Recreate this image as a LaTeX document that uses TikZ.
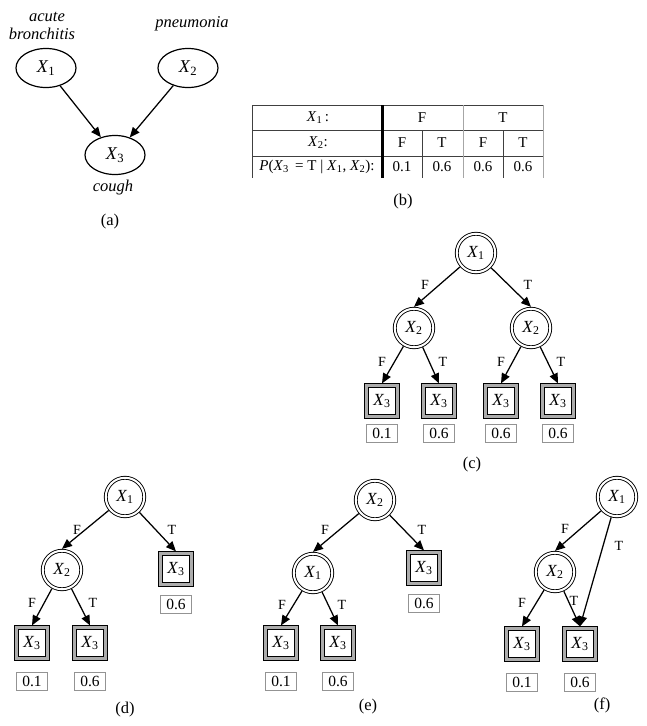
\documentclass[tikz,border=0pt]{standalone}
\usepackage{fontspec}
\setmainfont{Liberation Serif}
\usetikzlibrary{arrows.meta,shapes.geometric}
\newcommand{\Xv}[1]{\textit{X}\textsubscript{#1}}
\begin{document}
\begin{tikzpicture}[x=1pt,y=-1pt,
  ell/.style={ellipse, draw, line width=1.2pt, minimum width=60pt, minimum height=39pt, inner sep=0pt, font=\fontsize{18}{20}\selectfont},
  lbla/.style={font=\fontsize{16.5}{17}\selectfont\itshape, inner sep=0pt},
  arr/.style={line width=1.25pt, -{Triangle[length=10pt,width=8.5pt]}},
  dnode/.style={circle, draw, line width=0.9pt, double, double distance=2pt, minimum size=38.5pt, inner sep=0pt, outer sep=1.9pt, font=\fontsize{17}{19}\selectfont},
  leaf/.style={rectangle, draw=black, line width=1pt, double=gray!65, double distance=2.2pt, minimum size=31pt, inner sep=0pt, outer sep=2.1pt, font=\fontsize{17}{19}\selectfont},
  valbox/.style={rectangle, draw=gray!85, line width=0.7pt, minimum width=31pt, minimum height=18pt, inner sep=0pt, font=\fontsize{15.5}{17}\selectfont},
  elab/.style={font=\fontsize{14}{16}\selectfont, inner sep=0pt},
  capt/.style={font=\fontsize{16.5}{18}\selectfont, inner sep=0pt},
  tcell/.style={font=\fontsize{15}{17}\selectfont, inner sep=0pt},
  tline/.style={draw=black!75, line width=0.8pt},
  tline2/.style={draw=gray!70, line width=0.8pt}
]
\useasboundingbox (0,0) rectangle (646,726);

% ---------------- (a) ----------------
\node[lbla] (acute) at (47,17) {acute};
\node[lbla] (bron) at (42,34) {bronchitis};
\node[lbla] (pneu) at (192,24) {pneumonia};
\node[ell] (a1) at (46,68) {\Xv{1}};
\node[ell] (a2) at (188,68) {\Xv{2}};
\node[ell] (a3) at (115,155) {\Xv{3}};
\node[lbla] (cough) at (113,188) {cough};
\node[capt] (capa) at (110,222) {(a)};
\draw[arr] (a1) -- (a3);
\draw[arr] (a2) -- (a3);

% ---------------- (b) ----------------
\draw[tline] (252,105) -- (543,105);
\draw[tline] (252,130) -- (543,130);
\draw[tline] (252,156) -- (543,156);
\draw[tline] (252,105) -- (252,178);
\draw[tline2] (463,105) -- (463,178);
\draw[tline2] (543,105) -- (543,178);
\draw[tline] (422,130) -- (422,178);
\draw[tline] (503,130) -- (503,178);
\draw[line width=3pt] (382,105) -- (382,178);
\node[tcell] (h1) at (318,118) {\Xv{1}\,:};
\node[tcell] (h2) at (318,143) {\Xv{2}:};
\node[tcell] (h3) at (317,167) {\textit{P}(\Xv{3}\, = T | \Xv{1}, \Xv{2}):};
\node[tcell] (r1a) at (422,118) {F};
\node[tcell] (r1b) at (503,118) {T};
\node[tcell] (r2a) at (402,143) {F};
\node[tcell] (r2b) at (442,143) {T};
\node[tcell] (r2c) at (483,143) {F};
\node[tcell] (r2d) at (523,143) {T};
\node[tcell] (r3a) at (402,167) {0.1};
\node[tcell] (r3b) at (442,167) {0.6};
\node[tcell] (r3c) at (483,167) {0.6};
\node[tcell] (r3d) at (523,167) {0.6};
\node[capt] (capb) at (403,202) {(b)};

% ---------------- (c) ----------------
\node[dnode] (c1) at (476,253) {\Xv{1}};
\node[dnode] (c2) at (414,328) {\Xv{2}};
\node[dnode] (c3) at (531,328) {\Xv{2}};
\node[leaf] (c4) at (382,401) {\Xv{3}};
\node[leaf] (c5) at (439,401) {\Xv{3}};
\node[leaf] (c6) at (501,401) {\Xv{3}};
\node[leaf] (c7) at (558,401) {\Xv{3}};
\node[valbox] (cv4) at (382,433) {0.1};
\node[valbox] (cv5) at (439,433) {0.6};
\node[valbox] (cv6) at (501,433) {0.6};
\node[valbox] (cv7) at (558,433) {0.6};
\draw[arr] (c1) -- (c2.north);
\draw[arr] (c1) -- (c3.north);
\draw[arr] (c2) -- (c4.north);
\draw[arr] (c2) -- (c5.north);
\draw[arr] (c3) -- (c6.north);
\draw[arr] (c3) -- (c7.north);
\node[elab] (cl1) at (425,285) {F};
\node[elab] (cl2) at (528,285) {T};
\node[elab] (cl3) at (382,362) {F};
\node[elab] (cl4) at (443,362) {T};
\node[elab] (cl5) at (501,362) {F};
\node[elab] (cl6) at (561,362) {T};
\node[capt] (capc) at (472,465) {(c)};

% ---------------- (d) ----------------
\node[dnode] (d1) at (125,497) {\Xv{1}};
\node[dnode] (d2) at (62,570) {\Xv{2}};
\node[leaf] (d3) at (176,569) {\Xv{3}};
\node[valbox] (dv3) at (176,604) {0.6};
\node[leaf] (d4) at (32,643) {\Xv{3}};
\node[leaf] (d5) at (90,643) {\Xv{3}};
\node[valbox] (dv4) at (32,681) {0.1};
\node[valbox] (dv5) at (90,681) {0.6};
\draw[arr] (d1) -- (d2.north);
\draw[arr] (d1) -- (d3.north);
\draw[arr] (d2) -- (d4.north);
\draw[arr] (d2) -- (d5.north);
\node[elab] (dl1) at (77,530) {F};
\node[elab] (dl2) at (172,530) {T};
\node[elab] (dl3) at (32,603) {F};
\node[elab] (dl4) at (93,603) {T};
\node[capt] (capd) at (125,710) {(d)};

% ---------------- (e) ----------------
\node[dnode] (e1) at (375,500) {\Xv{2}};
\node[dnode] (e2) at (313,573) {\Xv{1}};
\node[leaf] (e3) at (424,568) {\Xv{3}};
\node[valbox] (ev3) at (424,603) {0.6};
\node[leaf] (e4) at (281,643) {\Xv{3}};
\node[leaf] (e5) at (338,643) {\Xv{3}};
\node[valbox] (ev4) at (281,681) {0.1};
\node[valbox] (ev5) at (338,681) {0.6};
\draw[arr] (e1) -- (e2.north);
\draw[arr] (e1) -- (e3.north);
\draw[arr] (e2) -- (e4.north);
\draw[arr] (e2) -- (e5.north);
\node[elab] (el1) at (325,530) {F};
\node[elab] (el2) at (422,530) {T};
\node[elab] (el3) at (282,605) {F};
\node[elab] (el4) at (342,605) {T};
\node[capt] (cape) at (368,707) {(e)};

% ---------------- (f) ----------------
\node[dnode] (f1) at (617,497) {\Xv{1}};
\node[dnode] (f2) at (555,572) {\Xv{2}};
\node[leaf] (f3) at (522,644) {\Xv{3}};
\node[leaf] (f4) at (580,644) {\Xv{3}};
\node[valbox] (fv3) at (522,682) {0.1};
\node[valbox] (fv4) at (580,682) {0.6};
\draw[arr] (f1) -- (f2.north);
\draw[arr] (f1) -- (f4.north);
\draw[arr] (f2) -- (f3.north);
\draw[arr] (f2) -- (f4.north);
\node[elab] (fl1) at (565,529) {F};
\node[elab] (fl2) at (619,546) {T};
\node[elab] (fl3) at (522,603) {F};
\node[elab] (fl4) at (574,601) {T};
\node[capt] (capf) at (602,705) {(f)};
\end{tikzpicture}
\end{document}
